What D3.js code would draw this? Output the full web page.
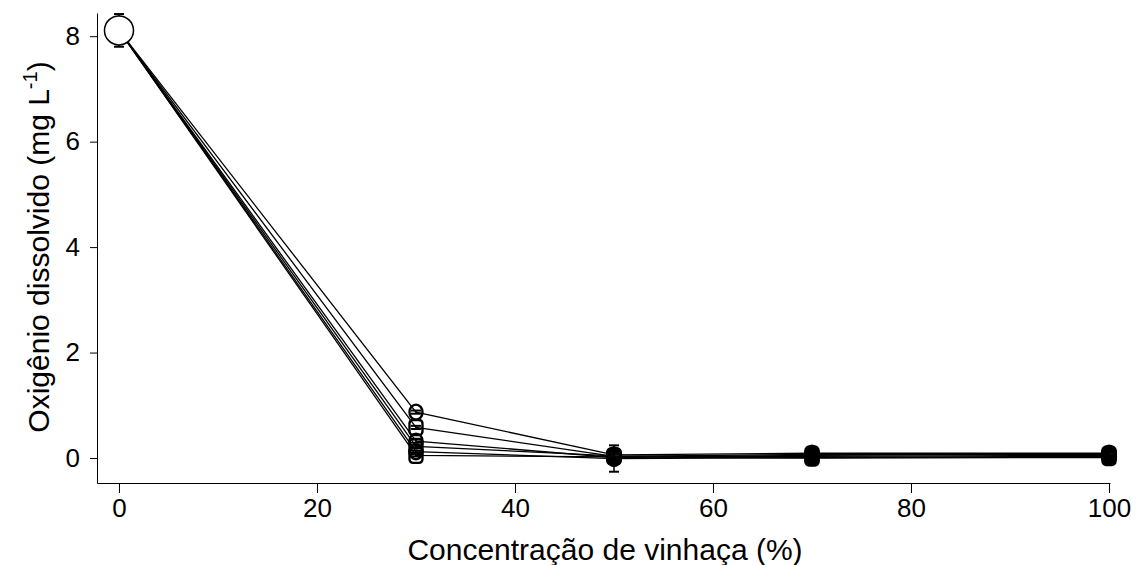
<!DOCTYPE html>
<html>
<head>
<meta charset="utf-8">
<script src="https://cdn.jsdelivr.net/npm/d3@7"></script>
<style>
  html, body { margin: 0; padding: 0; background: #fff; }
  svg text { font-family: "Liberation Sans", Arial, sans-serif; fill: #000; }
</style>
</head>
<body>
<svg id="chart" width="1137" height="565"></svg>
<script>
// Vinasse concentration (%) on the x axis
const concentrations = [0, 30, 50, 70, 100];

// Control reading at 0 % (mean and standard deviation)
const controlMean = 8.11;
const controlSd = 0.31;

// Dissolved oxygen (mg L-1) for each treatment series
const seriesNames = ["T1", "T2", "T3", "T4", "T5", "T6"];
const seriesValues = [
  [8.11, 0.87, 0.06, 0.09, 0.09],
  [8.11, 0.58, 0.03, 0.07, 0.07],
  [8.11, 0.32, 0.01, 0.05, 0.08],
  [8.11, 0.22, 0.04, 0.03, 0.05],
  [8.11, 0.12, -0.01, 0.01, 0.03],
  [8.11, 0.05, 0.02, 0.00, 0.01]
];
const seriesErrors = [
  [0, 0.03, 0.06, 0.04, 0.04],
  [0, 0.03, 0.08, 0.05, 0.05],
  [0, 0.03, 0.10, 0.05, 0.06],
  [0, 0.02, 0.06, 0.04, 0.05],
  [0, 0.02, 0.25, 0.04, 0.04],
  [0, 0.02, 0.05, 0.03, 0.03]
];
const markerShapes = ["circle", "square", "circle", "square", "circle", "square"];

const xTicks = [0, 20, 40, 60, 80, 100];
const yTicks = [0, 2, 4, 6, 8];

const svg = d3.select("#chart");

const x = d3.scaleLinear().domain([-2.22, 100.1]).range([97, 1110]);
const y = d3.scaleLinear().domain([-0.474, 8.44]).range([483, 13]);

// Axes
const xAxis = svg.append("g")
  .attr("transform", `translate(0,${y.range()[0]})`)
  .call(d3.axisBottom(x).tickValues(xTicks).tickSize(10).tickSizeOuter(0).tickPadding(6).tickFormat(d3.format("d")));
const yAxis = svg.append("g")
  .attr("transform", `translate(${x.range()[0]},0)`)
  .call(d3.axisLeft(y).tickValues(yTicks).tickSize(7).tickSizeOuter(0).tickPadding(10).tickFormat(d3.format("d")));
[xAxis, yAxis].forEach(g => {
  g.selectAll("path, line").attr("stroke", "#000").attr("stroke-width", 1);
  g.selectAll("text").attr("font-size", 26).attr("font-family", "'Liberation Sans', Arial, sans-serif");
});

// Axis titles
svg.append("text")
  .attr("x", (x(0) + x(100)) / 2 - 9)
  .attr("y", 560)
  .attr("text-anchor", "middle")
  .attr("font-size", 30)
  .text("Concentração de vinhaça (%)");

const yTitle = svg.append("text")
  .attr("transform", "translate(49,247) rotate(-90)")
  .attr("text-anchor", "middle")
  .attr("font-size", 30);
yTitle.append("tspan").text("Oxigênio dissolvido (mg L");
yTitle.append("tspan").attr("font-size", 20).attr("dy", -12).text("-1");
yTitle.append("tspan").attr("dy", 12).text(")");

// Series lines
const line = d3.line()
  .x((d, i) => x(concentrations[i]))
  .y(d => y(d));

svg.append("g").selectAll("path")
  .data(seriesValues)
  .join("path")
  .attr("d", d => line(d))
  .attr("fill", "none")
  .attr("stroke", "#000")
  .attr("stroke-width", 1.3);

// Error bars for the treatment series (skip the shared 0 % point)
const errG = svg.append("g").attr("stroke", "#000").attr("stroke-width", 1.5);
seriesValues.forEach((vals, s) => {
  vals.forEach((v, i) => {
    if (i === 0) return;
    const e = seriesErrors[s][i];
    const cx = x(concentrations[i]);
    errG.append("line").attr("x1", cx).attr("x2", cx).attr("y1", y(v - e)).attr("y2", y(v + e));
    errG.append("line").attr("x1", cx - 5).attr("x2", cx + 5).attr("y1", y(v - e)).attr("y2", y(v - e)).attr("stroke-width", 2);
    errG.append("line").attr("x1", cx - 5).attr("x2", cx + 5).attr("y1", y(v + e)).attr("y2", y(v + e)).attr("stroke-width", 2);
  });
});

// Treatment markers
const mkG = svg.append("g").attr("fill", "none").attr("stroke", "#000").attr("stroke-width", 2.4);
seriesValues.forEach((vals, s) => {
  vals.forEach((v, i) => {
    if (i === 0) return;
    const cx = x(concentrations[i]);
    const cy = y(v);
    if (markerShapes[s] === "circle") {
      mkG.append("ellipse").attr("cx", cx).attr("cy", cy).attr("rx", 6.5).attr("ry", 7.5);
    } else {
      mkG.append("rect").attr("x", cx - 6.5).attr("y", cy - 7.5).attr("width", 13).attr("height", 15).attr("rx", 3.5);
    }
  });
});

// Control point at 0 % with its error bar
const cx0 = x(concentrations[0]);
const ctrl = svg.append("g").attr("stroke", "#000").attr("stroke-width", 1.5);
ctrl.append("line").attr("x1", cx0).attr("x2", cx0).attr("y1", y(controlMean - controlSd)).attr("y2", y(controlMean + controlSd));
ctrl.append("line").attr("x1", cx0 - 5).attr("x2", cx0 + 5).attr("y1", y(controlMean - controlSd)).attr("y2", y(controlMean - controlSd)).attr("stroke-width", 2);
ctrl.append("line").attr("x1", cx0 - 5).attr("x2", cx0 + 5).attr("y1", y(controlMean + controlSd)).attr("y2", y(controlMean + controlSd)).attr("stroke-width", 2);
ctrl.append("circle").attr("cx", cx0).attr("cy", y(controlMean)).attr("r", 14.5).attr("fill", "#fff");
</script>
</body>
</html>
